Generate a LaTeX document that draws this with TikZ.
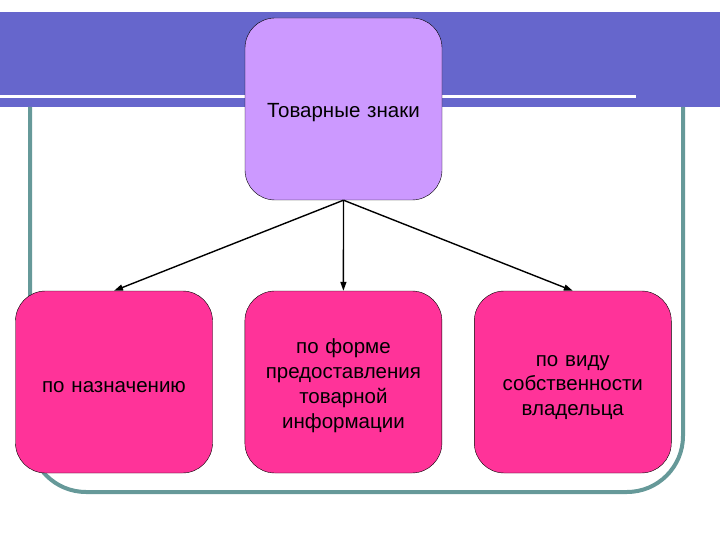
\documentclass[tikz,border=0pt]{standalone}
\usepackage{fontspec}
\setmainfont{Liberation Sans}
\usetikzlibrary{arrows.meta,positioning}
\definecolor{bandblue}{HTML}{6666CC}
\definecolor{framegray}{HTML}{669999}
\definecolor{lilac}{HTML}{CC99FF}
\definecolor{pinkbox}{HTML}{FF3399}

\begin{document}
\begin{tikzpicture}[
  x=1pt,y=-1pt,
  node distance=32pt,
  box/.style={draw=black,rounded corners=30pt,align=center,minimum width=197pt,
              minimum height=182pt,text width=185pt,fill=pinkbox,
              font=\fontsize{20.5}{24.8}\selectfont,
              execute at begin node={\rule{0pt}{22pt}}},
  topbox/.style={box,fill=lilac},
  arrow/.style={-{Triangle[length=9pt,width=6pt]},line width=1.4pt}
]
\useasboundingbox (0,0) rectangle (720,540);
\fill[bandblue] (0,12) rectangle (720,107);
\fill[white] (0,95) rectangle (636,98);
\draw[framegray,line width=4pt,rounded corners=56pt] (30,107) -- (30,492) -- (683,492) -- (683,107);
\node[topbox] (marks) at (343.5,109) {Товарные знаки};
\node[box] (purpose) at (114,382) {по назначению};
\node[box,right=of purpose] (form) {по форме\\предоставления\\товарной\\информации};
\node[box,right=of form] (owner) {по виду\\собственности\\владельца};
\draw[arrow] (marks.south) -- (purpose.north);
\draw[arrow] (marks.south) -- (form.north);
\draw[arrow] (marks.south) -- (owner.north);
\end{tikzpicture}
\end{document}
